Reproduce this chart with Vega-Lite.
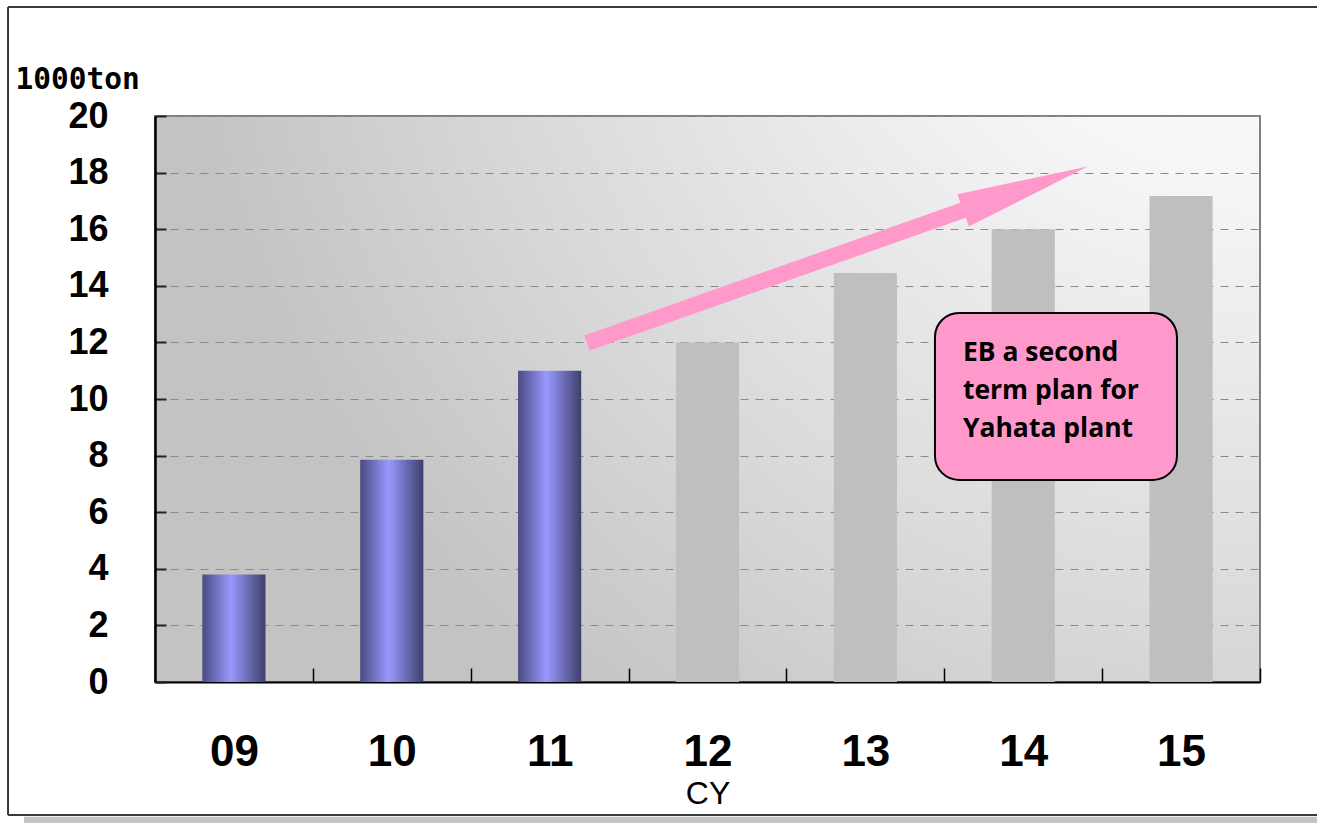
{
  "$schema": "https://vega.github.io/schema/vega-lite/v6.json",
  "width": 1105,
  "height": 566,
  "autosize": {"type": "none"},
  "padding": {"left": 155, "top": 116, "right": 57, "bottom": 141},
  "background": "white",
  "config": {
    "view": {
      "fill": {
        "gradient": "radial",
        "x1": 1, "y1": 0, "r1": 0,
        "x2": 1, "y2": 0, "r2": 1,
        "stops": [
          {"offset": 0, "color": "#ffffff"},
          {"offset": 0.3, "color": "#f6f6f6"},
          {"offset": 0.7, "color": "#dadada"},
          {"offset": 1, "color": "#c3c3c3"}
        ]
      },
      "stroke": "#808080",
      "strokeWidth": 2
    }
  },
  "datasets": {
    "bars": [
      {"cy": "09", "v": 3.8, "kind": "actual"},
      {"cy": "10", "v": 7.85, "kind": "actual"},
      {"cy": "11", "v": 11.0, "kind": "actual"},
      {"cy": "12", "v": 12.0, "kind": "plan"},
      {"cy": "13", "v": 14.45, "kind": "plan"},
      {"cy": "14", "v": 16.0, "kind": "plan"},
      {"cy": "15", "v": 17.17, "kind": "plan"}
    ],
    "frame": [
      {"x1": -0.931, "x2": 7.5, "y1": 23.85, "y2": 23.85},
      {"x1": -0.931, "x2": -0.931, "y1": 23.85, "y2": -4.7},
      {"x1": -0.931, "x2": 7.5, "y1": -4.7, "y2": -4.7}
    ],
    "strip": [{"x1": -0.83, "x2": 7.5, "y1": -4.76, "y2": -5.1}],
    "shaft": [
      {"ax": 2.737, "ay": 11.98},
      {"ax": 5.15, "ay": 16.73}
    ],
    "head": [{"ax": 5.514, "ay": 17.44}],
    "note": [
      {"x1": 4.941, "x2": 6.474, "y1": 13.04, "y2": 7.14, "tx": 5.118, "ty": 11.353,
       "label": "EB a second\nterm plan for\nYahata plant"}
    ]
  },
  "layer": [
    {
      "data": {"name": "bars"},
      "mark": {"type": "bar"},
      "encoding": {
        "x": {
          "field": "cy", "type": "nominal", "sort": null,
          "scale": {"paddingInner": 0.6, "paddingOuter": 0.3},
          "title": "CY",
          "axis": {
            "labelAngle": 0,
            "labelFont": "Liberation Sans",
            "labelFontWeight": "bold",
            "labelFontSize": 44,
            "labelColor": "black",
            "labelPadding": 62,
            "tickOffset": 78.93,
            "labelOffset": -78.93,
            "tickSize": -14,
            "tickColor": "#000000",
            "tickWidth": 1.5,
            "domainColor": "#000000",
            "domainWidth": 2,
            "titleFont": "Liberation Sans",
            "titleFontSize": 32,
            "titleFontWeight": "normal",
            "titleColor": "black",
            "titleBaseline": "alphabetic",
            "titleY": 121,
            "grid": false
          }
        },
        "y": {
          "field": "v", "type": "quantitative",
          "scale": {"domain": [0, 20], "nice": false},
          "title": "1000ton",
          "axis": {
            "values": [0, 2, 4, 6, 8, 10, 12, 14, 16, 18, 20],
            "labelFont": "Liberation Sans",
            "labelFontWeight": "bold",
            "labelFontSize": 36,
            "labelColor": "black",
            "labelPadding": 58,
            "tickSize": -11,
            "tickColor": "#222222",
            "tickWidth": 2,
            "domainColor": "#000000",
            "domainWidth": 2.5,
            "grid": true,
            "gridColor": "#8a8a8a",
            "gridDash": [8, 7],
            "gridWidth": 1,
            "titleAngle": 0,
            "titleAlign": "left",
            "titleBaseline": "alphabetic",
            "titleX": -140,
            "titleY": -28,
            "titleFont": "DejaVu Sans Mono",
            "titleFontSize": 29.5,
            "titleFontWeight": "bold",
            "titleColor": "black"
          }
        },
        "color": {
          "condition": {
            "test": "datum.kind === 'actual'",
            "value": {
              "gradient": "linear",
              "x1": 0, "y1": 0, "x2": 1, "y2": 0,
              "stops": [
                {"offset": 0, "color": "#4a4a82"},
                {"offset": 0.45, "color": "#9999ff"},
                {"offset": 1, "color": "#3f3f6c"}
              ]
            }
          },
          "value": "#bfbfbf"
        }
      }
    },
    {
      "layer": [
        {
          "data": {"name": "strip"},
          "mark": {"type": "rect", "fill": "#c4c4c4"},
          "encoding": {
            "x": {"field": "x1", "type": "quantitative", "scale": {"domain": [0, 7]}, "axis": null},
            "x2": {"field": "x2"},
            "y": {"field": "y1", "type": "quantitative", "scale": {"domain": [0, 20], "nice": false}, "title": "1000ton"},
            "y2": {"field": "y2"}
          }
        },
        {
          "data": {"name": "frame"},
          "mark": {"type": "rule", "color": "#3a3a3a", "strokeWidth": 2},
          "encoding": {
            "x": {"field": "x1", "type": "quantitative", "scale": {"domain": [0, 7]}, "axis": null},
            "x2": {"field": "x2"},
            "y": {"field": "y1", "type": "quantitative", "scale": {"domain": [0, 20], "nice": false}, "title": "1000ton"},
            "y2": {"field": "y2"}
          }
        },
        {
          "data": {"name": "shaft"},
          "mark": {"type": "line", "color": "#ff99cc", "strokeWidth": 16, "strokeCap": "butt"},
          "encoding": {
            "x": {"field": "ax", "type": "quantitative", "scale": {"domain": [0, 7]}, "axis": null},
            "y": {"field": "ay", "type": "quantitative", "scale": {"domain": [0, 20], "nice": false}, "title": "1000ton"}
          }
        },
        {
          "data": {"name": "head"},
          "mark": {
            "type": "point",
            "shape": "M1,0L-1,-0.26L-1,0.26Z",
            "filled": true,
            "opacity": 1,
            "color": "#ff99cc",
            "size": 17424,
            "angle": -19.4
          },
          "encoding": {
            "x": {"field": "ax", "type": "quantitative", "scale": {"domain": [0, 7]}, "axis": null},
            "y": {"field": "ay", "type": "quantitative", "scale": {"domain": [0, 20], "nice": false}, "title": "1000ton"}
          }
        },
        {
          "data": {"name": "note"},
          "mark": {"type": "rect", "fill": "#ff99cc", "stroke": "#000000", "strokeWidth": 2, "cornerRadius": 24},
          "encoding": {
            "x": {"field": "x1", "type": "quantitative", "scale": {"domain": [0, 7]}, "axis": null},
            "x2": {"field": "x2"},
            "y": {"field": "y1", "type": "quantitative", "scale": {"domain": [0, 20], "nice": false}, "title": "1000ton"},
            "y2": {"field": "y2"}
          }
        },
        {
          "data": {"name": "note"},
          "mark": {
            "type": "text",
            "align": "left",
            "baseline": "alphabetic",
            "font": "Open Sans",
            "fontWeight": "bold",
            "fontSize": 26.5,
            "lineBreak": "\n",
            "lineHeight": 38,
            "color": "#000000"
          },
          "encoding": {
            "x": {"field": "tx", "type": "quantitative", "scale": {"domain": [0, 7]}, "axis": null},
            "y": {"field": "ty", "type": "quantitative", "scale": {"domain": [0, 20], "nice": false}, "title": "1000ton"},
            "text": {"field": "label"}
          }
        }
      ]
    }
  ],
  "resolve": {"scale": {"x": "independent"}}
}
